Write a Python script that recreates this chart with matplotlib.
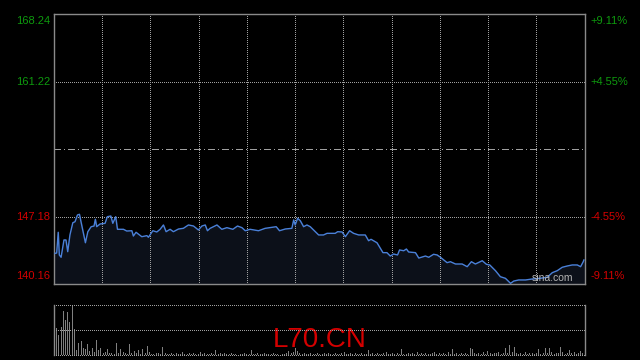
import matplotlib
matplotlib.use('Agg')
import matplotlib.pyplot as plt
from matplotlib.transforms import blended_transform_factory

plt.rcParams['font.family'] = ['Liberation Sans', 'DejaVu Sans']

# intraday price, minutes from open (240 min session)
minutes = [0.45, 1.2, 1.9, 2.4, 3.2, 4.5, 5.4, 6.2, 7.2, 8.5, 9.5, 10.6, 11.5, 12.5, 14.2, 15.3,
           16.8, 18.1, 18.7, 19.3, 20.8, 23.1, 24.1, 25.7, 26.6, 27.9, 28.7, 31.4, 32.9, 35.2,
           35.9, 37.1, 39.7, 42.0, 42.7, 44.7, 46.5, 48.0, 49.5, 50.7, 52.5, 54.0, 56.3, 58.5,
           60.8, 63.1, 65.3, 66.9, 68.4, 69.4, 70.6, 73.7, 75.9, 78.2, 80.9, 83.0, 85.0, 86.5,
           88.7, 92.5, 95.5, 100.5, 102.0, 104.6, 107.6, 108.4, 109.1, 110.2, 111.4, 112.9,
           114.4, 115.9, 118.2, 119.7, 121.9, 123.5, 127.2, 128.3, 130.3, 131.8, 133.7, 135.5,
           137.8, 140.8, 142.3, 143.4, 146.1, 148.8, 150.6, 152.1, 153.6, 155.4, 156.3, 158.2,
           159.4, 160.4, 163.5, 165.0, 168.0, 169.5, 171.7, 173.3, 174.8, 177.8, 179.3, 181.6,
           184.6, 186.9, 188.8, 190.6, 193.7, 195.6, 197.1, 199.7, 201.9, 204.2, 205.3, 206.5,
           208.0, 210.2, 213.3, 216.3, 220.1, 223.1, 225.4, 227.6, 229.9, 232.1, 234.4, 236.7,
           238.2, 239.4, 239.7]
prices = [143.35, 143.38, 145.54, 143.18, 142.94, 144.74, 144.74, 143.52, 145.26, 146.53, 146.64,
          147.34, 147.41, 146.30, 144.45, 145.60, 146.12, 146.19, 146.89, 146.12, 146.40, 146.47,
          147.16, 147.23, 146.47, 147.16, 145.85, 145.85, 145.67, 145.70, 145.15, 145.54, 145.08,
          145.19, 145.02, 145.70, 145.57, 145.85, 146.30, 145.60, 145.85, 145.60, 145.88, 145.95,
          146.30, 146.19, 145.78, 146.19, 146.30, 145.70, 145.95, 146.30, 145.85, 146.02, 145.85,
          146.19, 146.02, 145.70, 145.85, 145.70, 145.95, 146.12, 145.70, 145.88, 145.95, 146.82,
          146.30, 146.99, 146.74, 146.12, 146.30, 146.12, 145.60, 145.26, 145.26, 145.43, 145.43,
          145.60, 145.57, 145.08, 145.70, 145.43, 145.26, 145.26, 144.66, 144.81, 144.45, 143.42,
          143.42, 143.07, 143.28, 143.18, 143.70, 143.62, 143.80, 143.49, 143.42, 142.86, 143.07,
          142.94, 143.25, 143.18, 142.94, 142.38, 142.48, 142.24, 142.24, 141.96, 142.48, 142.24,
          142.58, 142.21, 142.14, 141.54, 140.92, 140.75, 140.50, 140.23, 140.47, 140.58, 140.58,
          140.68, 140.76, 140.86, 141.34, 141.54, 141.90, 142.03, 142.14, 142.14, 141.96, 142.48,
          142.66]

# per-minute volume (relative, 100 = panel top)
volume = [28, 53, 41, 56, 88, 69, 86, 66, 100, 51, 11, 24, 28, 15, 13, 22, 9, 14, 6, 31,
          11, 15, 4, 6, 13, 5, 4, 3, 25, 5, 13, 6, 4, 3, 22, 4, 9, 5, 11, 3,
          13, 4, 18, 6, 3, 2, 4, 5, 3, 16, 4, 3, 2, 5, 3, 4, 2, 3, 6, 2,
          3, 5, 2, 4, 3, 2, 6, 3, 4, 2, 3, 5, 2, 10, 3, 4, 2, 5, 3, 2,
          4, 3, 2, 15, 3, 2, 4, 3, 2, 10, 3, 2, 4, 2, 3, 5, 2, 3, 2, 4,
          3, 2, 4, 2, 3, 5, 8, 4, 6, 14, 9, 5, 3, 4, 2, 3, 5, 2, 3, 4,
          2, 3, 5, 2, 4, 3, 2, 5, 3, 2, 4, 6, 3, 2, 4, 3, 5, 2, 3, 4,
          3, 2, 10, 3, 4, 2, 5, 3, 2, 4, 6, 3, 2, 5, 3, 4, 2, 12, 3, 2,
          4, 3, 5, 2, 6, 3, 4, 2, 5, 3, 2, 4, 6, 3, 5, 2, 4, 3, 6, 2,
          12, 3, 4, 2, 5, 3, 4, 3, 14, 12, 5, 3, 4, 2, 6, 3, 8, 4, 3, 5,
          4, 6, 3, 5, 14, 4, 21, 6, 16, 5, 3, 4, 2, 6, 3, 4, 5, 3, 4, 12,
          3, 5, 14, 4, 14, 6, 3, 5, 4, 16, 6, 3, 5, 10, 4, 6, 3, 5, 8, 4]

prev_close = 154.20
price_ticks = [140.16, 147.18, 161.22, 168.24]
price_labels = ['140.16', '147.18', '161.22', '168.24']
pct_labels = ['-9.11%', '-4.55%', '+4.55%', '+9.11%']
symbol = 'L70.CN'

GREEN = '#0e9a0e'
RED = '#d40000'
GRID = '#8a8a8a'
dotted = (0, (1, 2))


def grid_line(axis, horizontal, pos, style=dotted):
    fn = axis.axhline if horizontal else axis.axvline
    ln = fn(pos, color='#a0a0a0', linewidth=0.72, linestyle=style, zorder=2, clip_on=False)
    ln.set_antialiased(False)
    return ln


fig = plt.figure(figsize=(6.4, 3.6), dpi=100, facecolor='black')
ax = fig.add_axes([0.0844, 0.2111, 0.829, 0.75], facecolor='black')
axv = fig.add_axes([0.0844, 0.0131, 0.829, 0.1405], facecolor='black')

# price panel
ax.fill_between(minutes, prices, price_ticks[0], color='#0c1019', zorder=1)
ax.plot(minutes, prices, color='#4a80d8', linewidth=1.0, zorder=3)
ax.set_xlim(0, 240)
ax.set_ylim(price_ticks[0], price_ticks[-1])

for k in range(1, 11):
    grid_line(ax, False, 240 * k / 11)
for v in (price_ticks[1], price_ticks[2]):
    grid_line(ax, True, v)
grid_line(ax, True, prev_close, (0, (6, 3, 1, 3)))

for s in ax.spines.values():
    s.set_color(GRID)
    s.set_linewidth(1.0)
ax.set_xticks([])
ax.set_yticks([])

tl = blended_transform_factory(ax.transAxes, ax.transData)
for i, (v, lab, pct) in enumerate(zip(price_ticks, price_labels, pct_labels)):
    col = RED if v < prev_close else GREEN
    va = 'bottom' if i == 0 else ('top' if i == len(price_ticks) - 1 else 'center')
    off = 2.5 if i == 0 else (-1.5 if i == len(price_ticks) - 1 else 0)
    ax.annotate(lab, (0, v), xycoords=tl, xytext=(-3, off), textcoords='offset points',
                ha='right', va=va, color=col, fontsize=8)
    ax.annotate(pct, (1, v), xycoords=tl, xytext=(4, off), textcoords='offset points',
                ha='left', va=va, color=col, fontsize=8)

ax.text(0.979, 0.004, 'sina.com', transform=ax.transAxes, ha='right', va='bottom',
        color='#b4b4b4', fontsize=7.5, zorder=4)

# volume panel
axv.text(0.5, 0.30, symbol, transform=axv.transAxes, ha='center', va='center',
         color=RED, fontsize=20, zorder=1)
axv.bar(range(len(volume)), volume, width=0.45, color='#808080', align='edge', zorder=2)
axv.set_xlim(0, 240)
axv.set_ylim(0, 100)
grid_line(axv, True, 50)
grid_line(axv, True, 100)
grid_line(axv, True, 0)
axv.spines['top'].set_visible(False)
axv.spines['bottom'].set_visible(False)
for side in ('left', 'right'):
    axv.spines[side].set_color(GRID)
    axv.spines[side].set_linewidth(1.0)
axv.set_xticks([])
axv.set_yticks([])

fig.savefig('out.png', dpi=100, facecolor='black')
